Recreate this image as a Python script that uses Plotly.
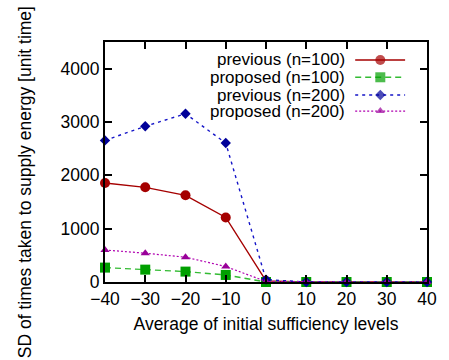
import plotly.graph_objects as go

x_levels = [-40, -30, -20, -10, 0, 10, 20, 30, 40]
prev_100 = [1855, 1775, 1625, 1210, 20, 0, 0, 0, 0]
prop_100 = [270, 232, 195, 132, 0, 0, 0, 0, 0]
prev_200 = [2655, 2920, 3155, 2605, 45, 0, 0, 0, 0]
prop_200 = [600, 540, 465, 290, 10, 0, 0, 0, 0]

names = ["previous (n=100)", "proposed (n=100)", "previous (n=200)", "proposed (n=200)"]
series = [prev_100, prop_100, prev_200, prop_200]
line_colors = ["#a50000", "#33bb33", "#1515c8", "#b000b0"]
marker_colors = ["#a50000", "#00a000", "#000099", "#990099"]
dashes = ["solid", "6px,4px", "3px,4px", "2px,2px"]
symbols = ["circle", "square", "diamond", "triangle-up"]
msizes = [10, 10, 8, 8]
lwidths = [1.4, 1.4, 1.4, 1.2]

FONT = "Liberation Sans, Arial, sans-serif"
FS = 17.5

fig = go.Figure()
for s, n, lc, mc, d, sym, ms, lw in zip(series, names, line_colors, marker_colors, dashes, symbols, msizes, lwidths):
    fig.add_trace(go.Scatter(
        x=x_levels, y=s, mode="lines+markers", name=n,
        line=dict(color=lc, dash=d, width=lw),
        marker=dict(symbol=sym, size=ms, color=mc, line=dict(width=0)),
        cliponaxis=False, showlegend=False,
    ))

# custom gnuplot-style legend (text right, sample on the right)
leg_y = [0.925, 0.853, 0.779, 0.712]
for i, (n, lc, mc, d, sym, ms, lw) in enumerate(zip(names, line_colors, marker_colors, dashes, symbols, msizes, lwidths)):
    fig.add_trace(go.Scatter(
        x=[0.777, 0.855, 0.932], y=[leg_y[i]] * 3, mode="lines+markers",
        line=dict(color=lc, dash=d, width=lw),
        marker=dict(symbol=sym, size=[0, ms, 0], color=mc, line=dict(width=0)),
        xaxis="x2", yaxis="y2", showlegend=False, cliponaxis=False, hoverinfo="skip",
    ))
    fig.add_annotation(
        x=0.752, y=leg_y[i], xref="paper", yref="paper", text=n,
        showarrow=False, xanchor="right", yanchor="middle",
        font=dict(family=FONT, size=17, color="black"),
    )

# y-axis title as annotation (centered on the figure, like gnuplot)
fig.add_annotation(
    x=-0.2477, y=0.417, xref="paper", yref="paper",
    text="SD of times taken to supply energy [unit time]",
    textangle=-90, showarrow=False, xanchor="center", yanchor="middle",
    font=dict(family=FONT, size=17.5, color="black"),
)

axis_common = dict(
    showline=True, linecolor="black", linewidth=2, mirror="allticks",
    ticks="inside", ticklen=7, tickwidth=2, tickcolor="black",
    showgrid=False, zeroline=False,
    tickfont=dict(family=FONT, size=FS, color="black"),
)
fig.update_layout(
    width=449, height=360,
    margin=dict(l=105, r=17, t=42, b=78),
    plot_bgcolor="white", paper_bgcolor="white",
    xaxis=dict(range=[-40, 40], tickmode="array", tickvals=[-40, -30, -20, -10, 0, 10, 20, 30, 40],
               title=dict(text="Average of initial sufficiency levels", font=dict(family=FONT, size=FS, color="black"), standoff=10),
               **axis_common),
    yaxis=dict(range=[0, 4500], tickmode="array", tickvals=[0, 1000, 2000, 3000, 4000],
               **axis_common),
    xaxis2=dict(range=[0, 1], overlaying="x", visible=False, fixedrange=True),
    yaxis2=dict(range=[0, 1], overlaying="y", visible=False, fixedrange=True),
    showlegend=False,
)

fig.write_html("out.html")
